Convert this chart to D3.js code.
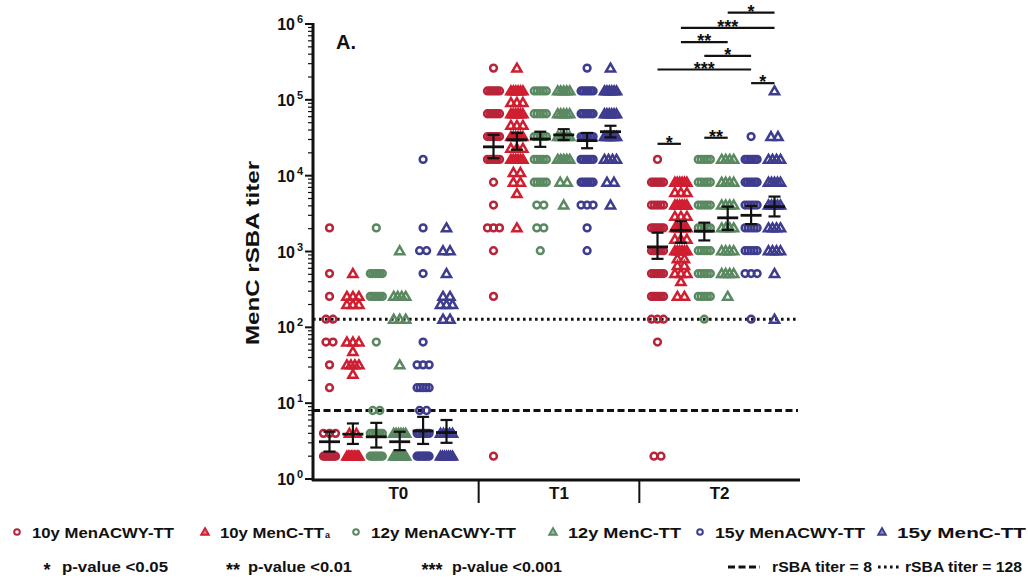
<!DOCTYPE html>
<html><head><meta charset="utf-8">
<script src="https://cdn.jsdelivr.net/npm/d3@7"></script>
<style>
html,body{margin:0;padding:0;background:#fff;}
svg{display:block;}
text{font-family:"Liberation Sans",Arial,Helvetica,sans-serif;font-weight:bold;fill:#111;}
</style></head><body>
<svg id="chart" width="1028" height="585"></svg>
<script>
// ---------- data ----------
const groups = ["T0", "T1", "T2"];
const seriesNames = ["10y MenACWY-TT", "10y MenC-TT", "12y MenACWY-TT", "12y MenC-TT", "15y MenACWY-TT", "15y MenC-TT"];
const seriesShapes = ["circle", "triangle", "circle", "triangle", "circle", "triangle"];
const seriesColors = ["#b8243a", "#d01e30", "#5a8961", "#5a8961", "#3e3c8e", "#3e3c8e"];
const yTickValues = [1, 10, 100, 1000, 10000, 100000, 1000000];
const yTickExponents = ["0", "1", "2", "3", "4", "5", "6"];

// [titer, number of subjects] per series at each time point
const T0_points = [
  [[2048,1],[512,1],[256,1],[128,2],[64,2],[32,1],[16,1],[4,3],[2,9]],
  [[512,1],[256,3],[200,3],[64,3],[48,1],[32,4],[24,1],[4,2],[2,9]],
  [[2048,1],[512,6],[256,6],[64,1],[8,2],[4,6],[2,8]],
  [[1024,1],[256,4],[128,3],[32,1],[4,6],[2,8]],
  [[16384,1],[2048,1],[1024,2],[512,1],[64,1],[32,3],[16,5],[8,2],[4,6],[2,8]],
  [[2048,1],[1024,2],[512,1],[256,2],[200,3],[128,2],[4,5],[2,7]]
];
const T1_points = [
  [[262144,1],[131072,6],[65536,6],[32768,6],[16384,6],[8192,1],[4096,1],[2048,3],[1024,1],[256,1],[2,1]],
  [[262144,1],[131072,6],[92000,3],[65536,6],[46000,3],[32768,6],[23000,3],[16384,6],[11000,2],[8192,2],[5800,1],[2048,1]],
  [[131072,5],[65536,5],[32768,5],[16384,5],[8192,5],[4096,2],[2048,2],[1024,1]],
  [[131072,5],[65536,5],[32768,5],[16384,5],[8192,2],[4096,1]],
  [[262144,1],[131072,6],[65536,6],[32768,6],[16384,6],[8192,6],[4096,3],[2048,1],[1024,1]],
  [[262144,1],[131072,6],[65536,6],[32768,6],[16384,4],[8192,2],[4096,1]]
];
const T2_points = [
  [[16384,1],[8192,6],[4096,5],[2048,6],[1024,6],[512,6],[256,6],[128,3],[64,1],[2,2]],
  [[8192,6],[6000,3],[4096,6],[2900,3],[2048,6],[1448,3],[1024,6],[800,2],[650,2],[512,3],[400,1],[256,2]],
  [[16384,5],[8192,5],[4096,5],[2048,5],[1024,5],[512,5],[256,5],[128,1]],
  [[16384,4],[8192,4],[4096,4],[2048,4],[1024,4],[512,4],[256,1]],
  [[32768,1],[16384,6],[8192,6],[4096,5],[2048,5],[1024,5],[512,3],[128,1]],
  [[131072,1],[32768,2],[16384,4],[8192,5],[4096,5],[2048,4],[1024,4],[512,1],[128,1]]
];
// geometric mean titers and 95% CI
const T0_gmt = [3.1, 3.9, 3.6, 3.1, 4.3, 4.1];
const T0_lo  = [2.3, 2.9, 2.6, 2.4, 2.9, 3.0];
const T0_hi  = [4.2, 5.4, 5.5, 4.2, 6.6, 6.0];
const T1_gmt = [24000, 29800, 30400, 34500, 29000, 38000];
const T1_lo  = [17000, 22000, 24000, 29600, 23000, 32000];
const T1_hi  = [34600, 36500, 38000, 41000, 36600, 45500];
const T2_gmt = [1150, 1900, 1850, 2780, 3000, 3900];
const T2_lo  = [800, 1300, 1400, 1920, 2300, 2900];
const T2_hi  = [1770, 2500, 2400, 3900, 4000, 5300];
// significance brackets at T2: [series a, series b, label, log10 height]
const T2_brackets = [
  [3, 5, "*", 6.15], [1, 5, "***", 5.95], [1, 3, "**", 5.76], [2, 4, "*", 5.58],
  [0, 4, "***", 5.40], [4, 5, "*", 5.22], [0, 1, "*", 4.42], [2, 3, "**", 4.50]
];
const thresholds = [8, 128];
const thresholdDash = ["7,3.5", "2.6,3.4"];
const pLabels = ["*", "**", "***"];
const pTexts = ["p-value <0.05", "p-value <0.01", "p-value <0.001"];
const thresholdLabels = ["rSBA titer = 8", "rSBA titer = 128"];

const allPoints = [T0_points, T1_points, T2_points];
const allGmt = [T0_gmt, T1_gmt, T2_gmt];
const allLo = [T0_lo, T1_lo, T2_lo];
const allHi = [T0_hi, T1_hi, T2_hi];

// ---------- layout ----------
const svg = d3.select("#chart");
const y = d3.scaleLog().domain([1, 1e6]).range([479, 24]);
const xBand = d3.scaleBand().domain(groups).range([318, 800]).padding(0);
const xCenter = d3.scalePoint().domain(groups).range([388, 716]);
const seriesStep = 23.4;
const sx = (g, i) => xCenter(g) + (i - 2.5) * seriesStep;

// threshold lines
svg.append("g").selectAll("line").data(thresholds).join("line")
  .attr("x1", 313).attr("x2", 798)
  .attr("y1", d => y(d)).attr("y2", d => y(d))
  .attr("stroke", "#111").attr("stroke-width", 3)
  .attr("stroke-dasharray", (d, i) => thresholdDash[i]);

// points
const sym = d3.symbol().type(d3.symbolTriangle).size(36);
const ptLayer = svg.append("g");
groups.forEach((g, gi) => {
  allPoints[gi].forEach((ser, si) => {
    const cx = sx(g, si);
    const pts = [];
    ser.forEach(([v, n]) => {
      const span = n > 1 ? Math.min((n - 1) * 7, 12) : 0;
      for (let k = 0; k < n; k++) {
        const off = n > 1 ? -span / 2 + span * k / (n - 1) : 0;
        pts.push({ v, x: cx + off });
      }
    });
    const sel = ptLayer.append("g")
      .attr("fill", "none").attr("stroke", seriesColors[si]).attr("stroke-width", 2.5);
    if (seriesShapes[si] === "circle") {
      sel.selectAll("circle").data(pts).join("circle")
        .attr("cx", d => d.x).attr("cy", d => y(d.v)).attr("r", 3.4);
    } else {
      sel.selectAll("path").data(pts).join("path")
        .attr("d", sym)
        .attr("transform", d => `translate(${d.x},${y(d.v) + 0.8})`);
    }
  });
});

// error bars
const eb = svg.append("g").attr("stroke", "#111");
groups.forEach((g, gi) => {
  allGmt[gi].forEach((m, si) => {
    const cx = sx(g, si);
    const lo = allLo[gi][si], hi = allHi[gi][si];
    eb.append("line").attr("x1", cx).attr("x2", cx).attr("y1", y(lo)).attr("y2", y(hi)).attr("stroke-width", 2.2);
    eb.append("line").attr("x1", cx - 6).attr("x2", cx + 6).attr("y1", y(lo)).attr("y2", y(lo)).attr("stroke-width", 2.2);
    eb.append("line").attr("x1", cx - 6).attr("x2", cx + 6).attr("y1", y(hi)).attr("y2", y(hi)).attr("stroke-width", 2.2);
    eb.append("line").attr("x1", cx - 10.5).attr("x2", cx + 10.5).attr("y1", y(m)).attr("y2", y(m)).attr("stroke-width", 2.8);
  });
});

// brackets
const br = svg.append("g");
T2_brackets.forEach(([a, b, lab, h]) => {
  const yy = y(Math.pow(10, h));
  const x1 = sx("T2", a), x2 = sx("T2", b);
  br.append("line").attr("x1", x1).attr("x2", x2).attr("y1", yy).attr("y2", yy)
    .attr("stroke", "#111").attr("stroke-width", 2.2);
  br.append("text").attr("x", (x1 + x2) / 2).attr("y", yy + 5)
    .attr("text-anchor", "middle").attr("font-size", 18).text(lab);
});

// y axis
const ya = svg.append("g");
ya.append("line").attr("x1", 313).attr("x2", 313).attr("y1", 23).attr("y2", 481)
  .attr("stroke", "#111").attr("stroke-width", 3);
const minor = [];
for (let e = 0; e < 6; e++) for (let k = 2; k <= 9; k++) minor.push(k * Math.pow(10, e));
ya.selectAll("line.mn").data(minor).join("line").attr("class", "mn")
  .attr("x1", 308).attr("x2", 313).attr("y1", d => y(d)).attr("y2", d => y(d))
  .attr("stroke", "#111").attr("stroke-width", 1.2);
ya.selectAll("line.mj").data(yTickValues).join("line").attr("class", "mj")
  .attr("x1", 305).attr("x2", 313).attr("y1", d => y(d)).attr("y2", d => y(d))
  .attr("stroke", "#111").attr("stroke-width", 2);
ya.selectAll("text.tl").data(yTickValues).join("text").attr("class", "tl")
  .attr("x", 295).attr("y", d => y(d) + 6).attr("text-anchor", "end")
  .attr("font-size", 16).text("10");
ya.selectAll("text.te").data(yTickValues).join("text").attr("class", "te")
  .attr("x", 297).attr("y", d => y(d) - 1).attr("font-size", 11)
  .text((d, i) => yTickExponents[i]);

svg.append("text").attr("transform", "translate(259,253) rotate(-90)")
  .attr("text-anchor", "middle").attr("font-size", 19)
  .attr("textLength", 184).attr("lengthAdjust", "spacingAndGlyphs")
  .text("MenC rSBA titer");
svg.append("text").attr("x", 336).attr("y", 49).attr("font-size", 20).text("A.");

// x axis
const xa = svg.append("g");
xa.append("line").attr("x1", 312).attr("x2", 800).attr("y1", 480).attr("y2", 480)
  .attr("stroke", "#111").attr("stroke-width", 3);
xa.selectAll("line.sep").data(groups.slice(1)).join("line").attr("class", "sep")
  .attr("x1", d => xBand(d)).attr("x2", d => xBand(d)).attr("y1", 480).attr("y2", 503)
  .attr("stroke", "#111").attr("stroke-width", 2);
xa.selectAll("text").data(groups).join("text")
  .attr("x", d => xBand(d) + xBand.bandwidth() / 2).attr("y", 499)
  .attr("text-anchor", "middle").attr("font-size", 17).text(d => d);

// legend row 1
const legX = [17, 205, 356, 553, 700, 882];
const legTextLen = [142, 104, 145, 113, 150, 129];
const lg = svg.append("g");
seriesNames.forEach((name, i) => {
  const mx = legX[i], my = 532;
  if (seriesShapes[i] === "circle") {
    lg.append("circle").attr("cx", mx).attr("cy", my).attr("r", 2.8)
      .attr("fill", "none").attr("stroke", seriesColors[i]).attr("stroke-width", 2);
  } else {
    lg.append("path").attr("d", d3.symbol().type(d3.symbolTriangle).size(26))
      .attr("transform", `translate(${mx},${my + 0.5})`)
      .attr("fill", seriesColors[i]).attr("fill-opacity", 0.6)
      .attr("stroke", seriesColors[i]).attr("stroke-width", 1.8);
  }
  lg.append("text").attr("x", mx + 15).attr("y", my + 5.5).attr("font-size", 15)
    .attr("textLength", legTextLen[i]).attr("lengthAdjust", "spacingAndGlyphs").text(name);
  if (i === 1) {
    lg.append("text").attr("x", mx + 15 + legTextLen[i] + 1).attr("y", my + 5.5)
      .attr("font-size", 9).text("a");
  }
});

// legend row 2
const pStarX = [47, 233, 432];
const pTextX = [62, 248, 452];
const pTextLen = [106, 104, 110];
pLabels.forEach((s, i) => {
  lg.append("text").attr("x", pStarX[i]).attr("y", 576).attr("text-anchor", "middle")
    .attr("font-size", 18).text(s);
  lg.append("text").attr("x", pTextX[i]).attr("y", 572).attr("font-size", 15)
    .attr("textLength", pTextLen[i]).attr("lengthAdjust", "spacingAndGlyphs").text(pTexts[i]);
});
const thrSymX = [728, 878];
const thrSymW = [32, 22];
const thrTextX = [772, 905];
const thrTextLen = [100, 117];
thresholds.forEach((v, i) => {
  lg.append("line").attr("x1", thrSymX[i]).attr("x2", thrSymX[i] + thrSymW[i])
    .attr("y1", 567).attr("y2", 567).attr("stroke", "#111").attr("stroke-width", 3)
    .attr("stroke-dasharray", thresholdDash[i]);
  lg.append("text").attr("x", thrTextX[i]).attr("y", 572).attr("font-size", 15)
    .attr("textLength", thrTextLen[i]).attr("lengthAdjust", "spacingAndGlyphs").text(thresholdLabels[i]);
});
</script>
</body></html>
